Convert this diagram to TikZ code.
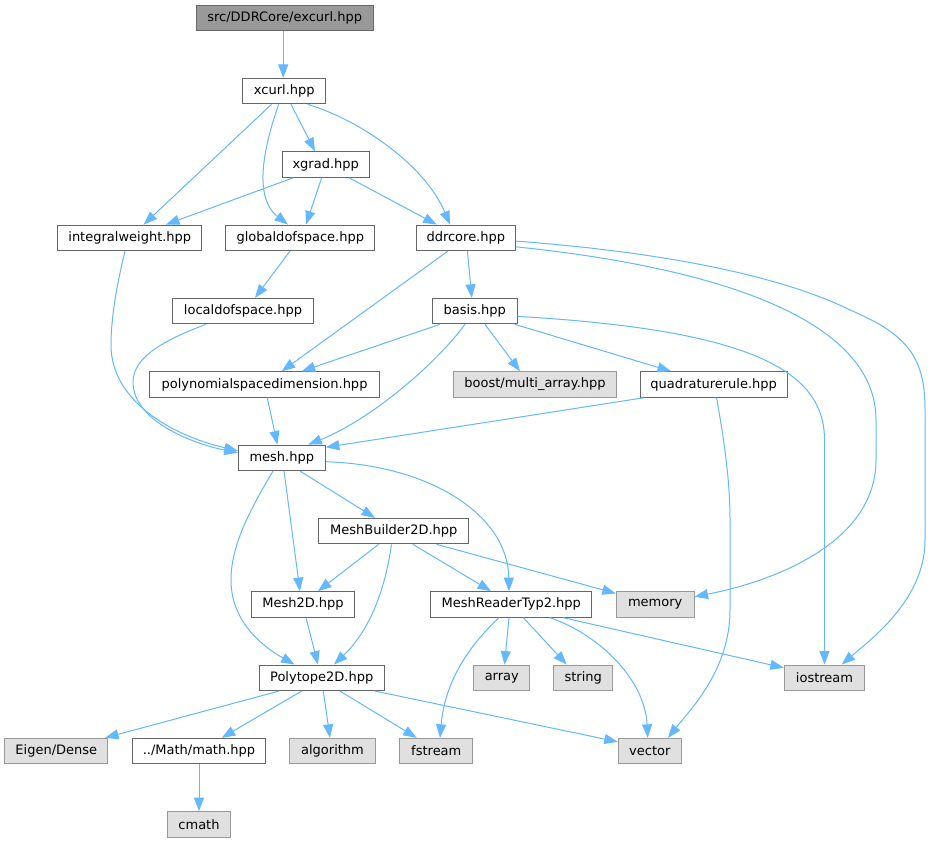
\documentclass[tikz,border=0pt]{standalone}
\usepackage{fontspec}
\setmainfont{DejaVu Sans}
\usetikzlibrary{arrows.meta}
\definecolor{edgec}{HTML}{63B8FF}
\definecolor{bordc}{HTML}{666666}
\definecolor{greyb}{HTML}{999999}
\definecolor{greyf}{HTML}{E0E0E0}
\definecolor{rootf}{HTML}{999999}
\begin{document}
\begin{tikzpicture}[x=1pt,y=-1pt,
  box/.style={draw=bordc, fill=white, line width=1pt, minimum height=25.5pt, inner sep=0pt, font=\fontsize{13}{15}\selectfont, text=black},
  sysbox/.style={box, draw=greyb, fill=greyf},
  rootbox/.style={box, fill=rootf},
  edge/.style={draw=edgec, line width=1pt, -{Triangle[length=13.5pt,width=10pt]}},
]
\useasboundingbox[fill=white] (0,0) rectangle (931,843);
% nodes
\node[rootbox, minimum width=176.7pt] (root) at (284.7,17.8) {src/DDRCore/excurl.hpp};
\node[box, minimum width=83.3pt] (xcurl) at (284.3,91.1) {xcurl.hpp};
\node[box, minimum width=87.3pt] (xgrad) at (325.7,164.5) {xgrad.hpp};
\node[box, minimum width=144.3pt] (intw) at (129.8,237.8) {integralweight.hpp};
\node[box, minimum width=149.3pt] (gdof) at (300.3,237.8) {globaldofspace.hpp};
\node[box, minimum width=99pt] (ddr) at (465.8,237.8) {ddrcore.hpp};
\node[box, minimum width=140.7pt] (ldof) at (243,311.1) {localdofspace.hpp};
\node[box, minimum width=84.5pt] (basis) at (474.8,311.1) {basis.hpp};
\node[box, minimum width=229.7pt] (poly) at (264.5,384.5) {polynomialspacedimension.hpp};
\node[sysbox, minimum width=163pt] (boost) at (535,384.5) {boost/multi\_array.hpp};
\node[box, minimum width=146.6pt] (quad) at (713.7,384.5) {quadraturerule.hpp};
\node[box, minimum width=87pt] (mesh) at (281.8,457.8) {mesh.hpp};
\node[box, minimum width=149.7pt] (mb) at (393.8,531.1) {MeshBuilder2D.hpp};
\node[box, minimum width=102.6pt] (m2d) at (303,604.4) {Mesh2D.hpp};
\node[box, minimum width=161.3pt] (mr) at (511.3,604.4) {MeshReaderTyp2.hpp};
\node[sysbox, minimum width=77.7pt] (mem) at (655.2,604.4) {memory};
\node[box, minimum width=125.3pt] (p2d) at (321.7,677.8) {Polytope2D.hpp};
\node[sysbox, minimum width=56.3pt] (arr) at (501.8,677.8) {array};
\node[sysbox, minimum width=59pt] (str) at (583.2,677.8) {string};
\node[sysbox, minimum width=80.4pt] (ios) at (824.5,677.8) {iostream};
\node[sysbox, minimum width=103.3pt] (eig) at (56.3,751.1) {Eigen/Dense};
\node[box, minimum width=133.3pt] (math) at (199,751.1) {../Math/math.hpp};
\node[sysbox, minimum width=85.6pt] (alg) at (332.5,751.1) {algorithm};
\node[sysbox, minimum width=73.3pt] (fst) at (436.3,751.1) {fstream};
\node[sysbox, minimum width=63pt] (vec) at (649.8,751.1) {vector};
\node[sysbox, minimum width=62.6pt] (cmath) at (199,824.4) {cmath};
% edges
\draw[edge] ([xshift=-1.5pt]root.south) -- ([xshift=-1.1pt]xcurl.north);
\draw[edge] ([xshift=-12.8pt]xcurl.south) -- ([xshift=13.9pt]intw.north);
\draw[edge] ([xshift=-5.6pt]xcurl.south) .. controls (268,135) and (250,195) .. ([xshift=-12.3pt]gdof.north);
\draw[edge] ([xshift=6.7pt]xcurl.south) -- ([xshift=-10.7pt]xgrad.north);
\draw[edge] ([xshift=23.4pt]xcurl.south) .. controls (360,120) and (425,165) .. ([xshift=-15.8pt]ddr.north);
\draw[edge] ([xshift=-32.4pt]xgrad.south) -- ([xshift=36.2pt]intw.north);
\draw[edge] ([xshift=-4pt]xgrad.south) -- ([xshift=5.7pt]gdof.north);
\draw[edge] ([xshift=23.3pt]xgrad.south) -- ([xshift=-29.1pt]ddr.north);
\draw[edge] ([xshift=-4.8pt]intw.south) .. controls (118,280) and (111,315) .. (111,345) .. controls (111,400) and (170,435) .. ([yshift=7pt]mesh.west);
\draw[edge] ([xshift=-10.3pt]gdof.south) -- ([xshift=12pt]ldof.north);
\draw[edge] ([xshift=-37pt]ldof.south) .. controls (170,338) and (133,355) .. (133,382) .. controls (133,420) and (190,443) .. ([yshift=5pt]mesh.west);
\draw[edge] ([xshift=1.6pt]ddr.south) -- ([xshift=-3pt]basis.north);
\draw[edge] ([xshift=-17.8pt]ddr.south) -- ([xshift=17.2pt]poly.north);
\draw[edge] ([yshift=-9pt]ddr.east) .. controls (720,268) and (876,320) .. (876,420) -- (876,460) .. controls (876,540) and (780,580) .. ([yshift=7.7pt]mem.east);
\draw[edge] ([yshift=-3.3pt]ddr.east) .. controls (700,255) and (800,285) .. (850,310) .. controls (910,335) and (925,360) .. (925,410) -- (925,540) .. controls (925,600) and (870,640) .. ([xshift=17.2pt]ios.north);
\draw[edge] ([xshift=-34.8pt]basis.south) -- ([xshift=37.2pt]poly.north);
\draw[edge] ([xshift=-9.8pt]basis.south) .. controls (435,365) and (370,420) .. ([xshift=26.5pt]mesh.north);
\draw[edge] ([xshift=10.2pt]basis.south) -- ([xshift=-15pt]boost.north);
\draw[edge] ([xshift=40pt]basis.south) -- ([xshift=-42.7pt]quad.north);
\draw[edge] ([yshift=-5.3pt]basis.east) .. controls (750,330) and (824.5,370) .. (824.5,440) -- (ios.north);
\draw[edge] ([xshift=-69.9pt]quad.south) -- ([yshift=10.5pt]mesh.east);
\draw[edge] ([xshift=2.9pt]quad.south) .. controls (724,440) and (730,480) .. (730,520) -- (730,610) .. controls (730,670) and (690,710) .. ([xshift=18.2pt]vec.north);
\draw[edge] ([xshift=2.8pt]poly.south) -- ([xshift=-4.5pt]mesh.north);
\draw[edge] ([xshift=18.2pt]mesh.south) -- ([xshift=-18.8pt]mb.north);
\draw[edge] ([xshift=2.2pt]mesh.south) -- ([xshift=-3pt]m2d.north);
\draw[edge] ([xshift=-8.8pt]mesh.south) .. controls (250,510) and (231,545) .. (231,580) .. controls (231,620) and (260,645) .. ([xshift=-27.1pt]p2d.north);
\draw[edge] ([yshift=-3.9pt]mesh.east) .. controls (430,465) and (508,515) .. ([xshift=-2.3pt]mr.north);
\draw[edge] ([xshift=-15.2pt]mb.south) -- ([xshift=15pt]m2d.north);
\draw[edge] ([xshift=-2.3pt]mb.south) .. controls (385,590) and (370,630) .. ([xshift=12.3pt]p2d.north);
\draw[edge] ([xshift=19.2pt]mb.south) -- ([xshift=-20.3pt]mr.north);
\draw[edge] ([xshift=42.8pt]mb.south) -- ([yshift=11pt]mem.west);
\draw[edge] ([xshift=3pt]m2d.south) -- ([xshift=-3.7pt]p2d.north);
\draw[edge] ([xshift=-2.3pt]mr.south) -- ([xshift=2.7pt]arr.north);
\draw[edge] ([xshift=12pt]mr.south) -- ([xshift=-16.5pt]str.north);
\draw[edge] ([xshift=-12.3pt]mr.south) .. controls (470,645) and (445,680) .. ([xshift=3.7pt]fst.north);
\draw[edge] ([xshift=38.7pt]mr.south) .. controls (600,635) and (645,680) .. ([xshift=-2.1pt]vec.north);
\draw[edge] ([xshift=51.7pt]mr.south) -- ([yshift=10pt]ios.west);
\draw[edge] ([xshift=-42.7pt]p2d.south) -- ([xshift=48.7pt]eig.north);
\draw[edge] ([xshift=-20pt]p2d.south) -- ([xshift=22.7pt]math.north);
\draw[edge] ([xshift=1.6pt]p2d.south) -- ([xshift=-2.5pt]alg.north);
\draw[edge] ([xshift=18.3pt]p2d.south) -- ([xshift=-19.6pt]fst.north);
\draw[edge] ([xshift=53.3pt]p2d.south) -- ([yshift=9.3pt]vec.west);
\draw[edge] (math) -- (cmath);
\end{tikzpicture}
\end{document}
